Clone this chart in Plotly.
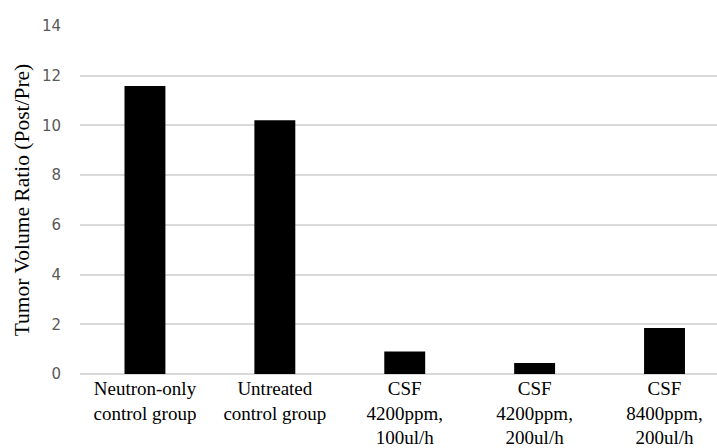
import plotly.graph_objects as go

categories = [
    "Neutron-only<br>control group",
    "Untreated<br>control group",
    "CSF<br>4200ppm,<br>100ul/h",
    "CSF<br>4200ppm,<br>200ul/h",
    "CSF<br>8400ppm,<br>200ul/h",
]
values = [11.59, 10.21, 0.91, 0.44, 1.85]
y_ticks = [0, 2, 4, 6, 8, 10, 12, 14]

fig = go.Figure(
    go.Bar(
        x=list(range(len(categories))),
        y=values,
        width=0.315,
        marker=dict(color="#000000", line=dict(width=0)),
    )
)

fig.update_layout(
    width=717,
    height=448,
    margin=dict(l=79.5, r=0, t=26, b=73.5),
    plot_bgcolor="white",
    paper_bgcolor="white",
    showlegend=False,
    xaxis=dict(
        range=[-0.5, 4.404],
        tickmode="array",
        tickvals=list(range(len(categories))),
        ticktext=categories,
        showgrid=False,
        zeroline=False,
        showline=False,
        ticks="",
        automargin=False,
        ticklabelstandoff=1,
        tickfont=dict(family="Liberation Serif", size=19, color="#000000"),
    ),
    yaxis=dict(
        range=[0, 14],
        tickvals=y_ticks,
        showgrid=True,
        gridcolor="#d9d9d9",
        gridwidth=1.5,
        zeroline=True,
        zerolinecolor="#d9d9d9",
        zerolinewidth=1.5,
        showline=False,
        ticks="",
        automargin=False,
        ticklabelstandoff=18,
        tickfont=dict(family="DejaVu Sans", size=15, color="#595959"),
        title=dict(
            text="Tumor Volume Ratio (Post/Pre)",
            font=dict(family="Liberation Serif", size=21.5, color="#000000"),
            standoff=6,
        ),
    ),
)

fig.write_html(
    "out.html",
    config={"displayModeBar": False},
    post_script="document.body.style.margin='0';document.body.style.overflow='hidden';",
)
